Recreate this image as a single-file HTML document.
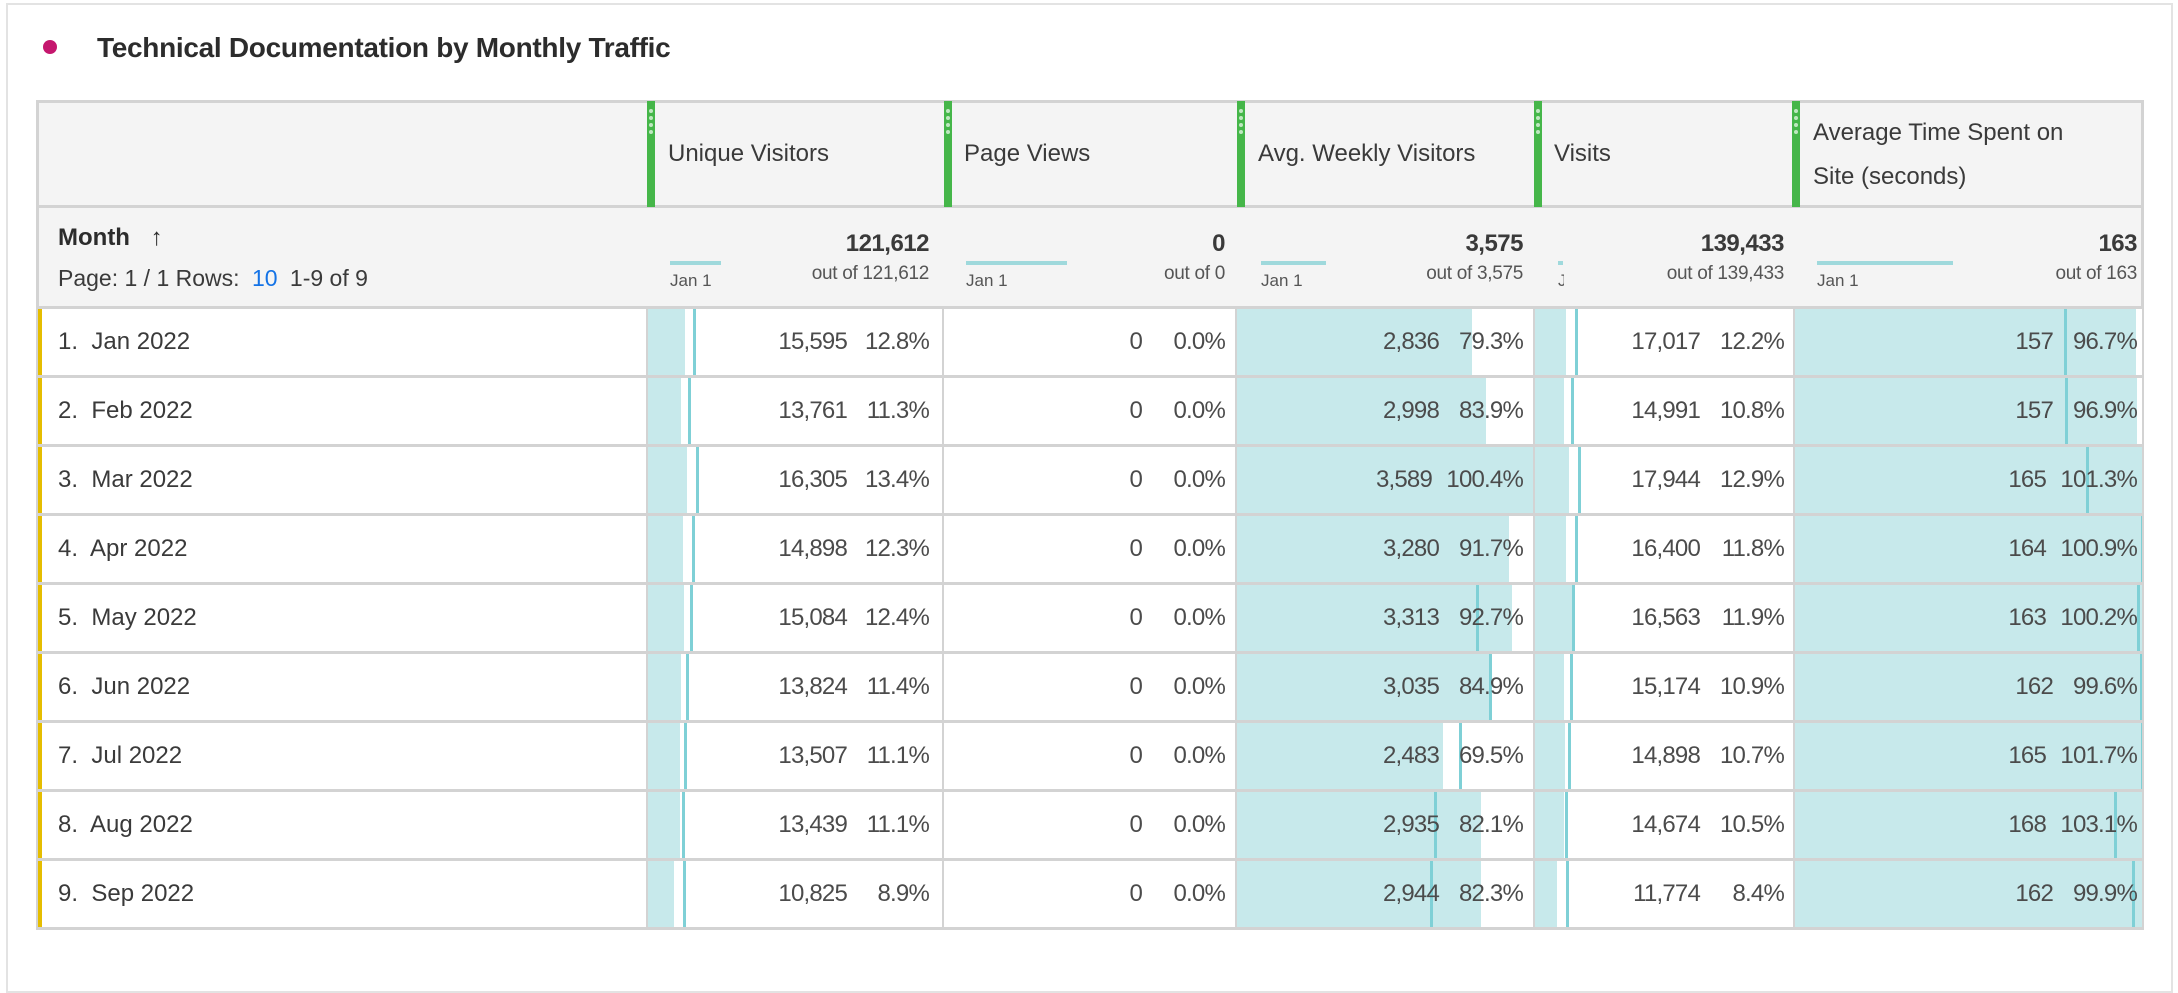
<!DOCTYPE html>
<html><head><meta charset="utf-8">
<style>
*{margin:0;padding:0;box-sizing:border-box}
body{width:2178px;height:984px;background:#fff;position:relative;overflow:hidden;font-family:"Liberation Sans",sans-serif;color:#4b4b4b}
.a{position:absolute}
.card{left:6px;top:3px;width:2167px;height:990px;border:2px solid #e3e3e3}
.hdr{background:#f4f4f4}
.g{position:absolute;top:101px;height:106px;width:8px;background:#45b649}
.g i{position:absolute;left:2px;width:4px;height:4px;border-radius:2px;background:#bfe8c0}
.ht{position:absolute;font-size:24px;color:#3a3a3a;line-height:44px;white-space:nowrap}
.row{position:absolute;left:36px;width:2108px;height:69px;border-bottom:3px solid #d3d3d3;background:#fff}
.yb{position:absolute;left:0;top:0;width:6px;height:100%;background:#e5bd00}
.lbl{position:absolute;left:22px;top:0;line-height:66px;font-size:24px;color:#3a3a3a;white-space:nowrap}
.f{position:absolute;top:0;height:66px;background:#c7e9eb}
.l{position:absolute;top:0;height:66px;width:3px;background:#7fd0d6}
.n{position:absolute;top:0;line-height:66px;font-size:24px;text-align:right;color:#4b4b4b;letter-spacing:-0.8px;white-space:nowrap}
.vb{position:absolute;top:0;height:66px;width:2px;background:#d3d3d3}
.tot{position:absolute;top:230px;font-size:24px;font-weight:bold;text-align:right;color:#3a3a3a;letter-spacing:-0.5px}
.oo{position:absolute;top:263px;font-size:19px;text-align:right;color:#555;white-space:nowrap;letter-spacing:-0.3px}
.sp{position:absolute;top:261px;height:4px;background:#9fd9dc}
.j1{position:absolute;top:271px;font-size:17px;color:#555;white-space:nowrap;overflow:hidden}
</style></head><body>
<div class="a card"></div>
<div class="a" style="left:43px;top:40px;width:14px;height:14px;border-radius:7px;background:#c5176e"></div>
<div class="a" style="left:97px;top:32px;font-size:28px;font-weight:bold;color:#2c2c2c;letter-spacing:-0.3px">Technical Documentation by Monthly Traffic</div>

<div class="a hdr" style="left:36px;top:100px;width:2108px;height:209px;border:3px solid #d3d3d3"></div>
<div class="a" style="left:36px;top:205px;width:2108px;height:3px;background:#d3d3d3"></div>

<div class="g" style="left:647px"><i style="top:8px"></i><i style="top:15px"></i><i style="top:22px"></i><i style="top:29px"></i></div>
<div class="g" style="left:944px"><i style="top:8px"></i><i style="top:15px"></i><i style="top:22px"></i><i style="top:29px"></i></div>
<div class="g" style="left:1237px"><i style="top:8px"></i><i style="top:15px"></i><i style="top:22px"></i><i style="top:29px"></i></div>
<div class="g" style="left:1534px"><i style="top:8px"></i><i style="top:15px"></i><i style="top:22px"></i><i style="top:29px"></i></div>
<div class="g" style="left:1792px"><i style="top:8px"></i><i style="top:15px"></i><i style="top:22px"></i><i style="top:29px"></i></div>

<div class="ht" style="left:668px;top:132px">Unique Visitors</div>
<div class="ht" style="left:964px;top:132px">Page Views</div>
<div class="ht" style="left:1258px;top:132px">Avg. Weekly Visitors</div>
<div class="ht" style="left:1554px;top:132px">Visits</div>
<div class="ht" style="left:1813px;top:111px">Average Time Spent on</div>
<div class="ht" style="left:1813px;top:155px">Site (seconds)</div>

<div class="a" style="left:58px;top:224px;font-size:24px;font-weight:bold;color:#2c2c2c">Month <span style="font-weight:normal;margin-left:14px">&#8593;</span></div>
<div class="a" style="left:58px;top:265px;font-size:23px;color:#3a3a3a">Page: 1 / 1 Rows: <span style="color:#1473e6;margin:0 6px">10</span> 1-9 of 9</div>

<div class="tot" style="right:1249px">121,612</div><div class="oo" style="right:1249px">out of 121,612</div>
<div class="sp" style="left:670px;width:51px"></div><div class="j1" style="left:670px">Jan 1</div>
<div class="tot" style="right:953px">0</div><div class="oo" style="right:953px">out of 0</div>
<div class="sp" style="left:966px;width:101px"></div><div class="j1" style="left:966px">Jan 1</div>
<div class="tot" style="right:655px">3,575</div><div class="oo" style="right:655px">out of 3,575</div>
<div class="sp" style="left:1261px;width:65px"></div><div class="j1" style="left:1261px">Jan 1</div>
<div class="tot" style="right:394px">139,433</div><div class="oo" style="right:394px">out of 139,433</div>
<div class="sp" style="left:1558px;width:5px"></div><div class="j1" style="left:1558px;width:6px">Jan 1</div>
<div class="tot" style="right:41px">163</div><div class="oo" style="right:41px">out of 163</div>
<div class="sp" style="left:1817px;width:136px"></div><div class="j1" style="left:1817px">Jan 1</div>

<div class="row" style="top:309px"><div class="yb"></div><div class="lbl">1.&nbsp; Jan 2022</div>
<div class="f" style="left:611px;width:38px"></div><div class="l" style="left:657px"></div><div class="vb" style="left:906px"></div>
<div class="n" style="right:1297px">15,595</div><div class="n" style="right:1215px">12.8%</div>
<div class="n" style="right:1002px">0</div><div class="n" style="right:919px">0.0%</div>
<div class="f" style="left:1201px;width:235px"></div><div class="vb" style="left:1199px"></div>
<div class="n" style="right:705px">2,836</div><div class="n" style="right:621px">79.3%</div>
<div class="vb" style="left:1497px"></div><div class="f" style="left:1499px;width:31px"></div><div class="l" style="left:1539px"></div>
<div class="n" style="right:444px">17,017</div><div class="n" style="right:360px">12.2%</div>
<div class="vb" style="left:1757px"></div><div class="f" style="left:1759px;width:341px"></div><div class="l" style="left:2028px"></div>
<div class="n" style="right:91px">157</div><div class="n" style="right:7px">96.7%</div></div>

<div class="row" style="top:378px"><div class="yb"></div><div class="lbl">2.&nbsp; Feb 2022</div>
<div class="f" style="left:611px;width:34px"></div><div class="l" style="left:652px"></div><div class="vb" style="left:906px"></div>
<div class="n" style="right:1297px">13,761</div><div class="n" style="right:1215px">11.3%</div>
<div class="n" style="right:1002px">0</div><div class="n" style="right:919px">0.0%</div>
<div class="f" style="left:1201px;width:249px"></div><div class="vb" style="left:1199px"></div>
<div class="n" style="right:705px">2,998</div><div class="n" style="right:621px">83.9%</div>
<div class="vb" style="left:1497px"></div><div class="f" style="left:1499px;width:29px"></div><div class="l" style="left:1535px"></div>
<div class="n" style="right:444px">14,991</div><div class="n" style="right:360px">10.8%</div>
<div class="vb" style="left:1757px"></div><div class="f" style="left:1759px;width:342px"></div><div class="l" style="left:2029px"></div>
<div class="n" style="right:91px">157</div><div class="n" style="right:7px">96.9%</div></div>

<div class="row" style="top:447px"><div class="yb"></div><div class="lbl">3.&nbsp; Mar 2022</div>
<div class="f" style="left:611px;width:40px"></div><div class="l" style="left:660px"></div><div class="vb" style="left:906px"></div>
<div class="n" style="right:1297px">16,305</div><div class="n" style="right:1215px">13.4%</div>
<div class="n" style="right:1002px">0</div><div class="n" style="right:919px">0.0%</div>
<div class="f" style="left:1201px;width:297px"></div><div class="vb" style="left:1199px"></div>
<div class="n" style="right:712px">3,589</div><div class="n" style="right:621px">100.4%</div>
<div class="vb" style="left:1497px"></div><div class="f" style="left:1499px;width:34px"></div><div class="l" style="left:1542px"></div>
<div class="n" style="right:444px">17,944</div><div class="n" style="right:360px">12.9%</div>
<div class="vb" style="left:1757px"></div><div class="f" style="left:1759px;width:349px"></div><div class="l" style="left:2050px"></div>
<div class="n" style="right:98px">165</div><div class="n" style="right:7px">101.3%</div></div>

<div class="row" style="top:516px"><div class="yb"></div><div class="lbl">4.&nbsp; Apr 2022</div>
<div class="f" style="left:611px;width:36px"></div><div class="l" style="left:656px"></div><div class="vb" style="left:906px"></div>
<div class="n" style="right:1297px">14,898</div><div class="n" style="right:1215px">12.3%</div>
<div class="n" style="right:1002px">0</div><div class="n" style="right:919px">0.0%</div>
<div class="f" style="left:1201px;width:272px"></div><div class="vb" style="left:1199px"></div>
<div class="n" style="right:705px">3,280</div><div class="n" style="right:621px">91.7%</div>
<div class="vb" style="left:1497px"></div><div class="f" style="left:1499px;width:31px"></div><div class="l" style="left:1539px"></div>
<div class="n" style="right:444px">16,400</div><div class="n" style="right:360px">11.8%</div>
<div class="vb" style="left:1757px"></div><div class="f" style="left:1759px;width:349px"></div><div class="l" style="left:2105px"></div>
<div class="n" style="right:98px">164</div><div class="n" style="right:7px">100.9%</div></div>

<div class="row" style="top:585px"><div class="yb"></div><div class="lbl">5.&nbsp; May 2022</div>
<div class="f" style="left:611px;width:37px"></div><div class="l" style="left:654px"></div><div class="vb" style="left:906px"></div>
<div class="n" style="right:1297px">15,084</div><div class="n" style="right:1215px">12.4%</div>
<div class="n" style="right:1002px">0</div><div class="n" style="right:919px">0.0%</div>
<div class="f" style="left:1201px;width:275px"></div><div class="l" style="left:1440px"></div><div class="vb" style="left:1199px"></div>
<div class="n" style="right:705px">3,313</div><div class="n" style="right:621px">92.7%</div>
<div class="vb" style="left:1497px"></div><div class="f" style="left:1499px;width:37px"></div><div class="l" style="left:1536px"></div>
<div class="n" style="right:444px">16,563</div><div class="n" style="right:360px">11.9%</div>
<div class="vb" style="left:1757px"></div><div class="f" style="left:1759px;width:349px"></div><div class="l" style="left:2101px"></div>
<div class="n" style="right:98px">163</div><div class="n" style="right:7px">100.2%</div></div>

<div class="row" style="top:654px"><div class="yb"></div><div class="lbl">6.&nbsp; Jun 2022</div>
<div class="f" style="left:611px;width:34px"></div><div class="l" style="left:650px"></div><div class="vb" style="left:906px"></div>
<div class="n" style="right:1297px">13,824</div><div class="n" style="right:1215px">11.4%</div>
<div class="n" style="right:1002px">0</div><div class="n" style="right:919px">0.0%</div>
<div class="f" style="left:1201px;width:254px"></div><div class="l" style="left:1453px"></div><div class="vb" style="left:1199px"></div>
<div class="n" style="right:705px">3,035</div><div class="n" style="right:621px">84.9%</div>
<div class="vb" style="left:1497px"></div><div class="f" style="left:1499px;width:29px"></div><div class="l" style="left:1534px"></div>
<div class="n" style="right:444px">15,174</div><div class="n" style="right:360px">10.9%</div>
<div class="vb" style="left:1757px"></div><div class="f" style="left:1759px;width:349px"></div><div class="l" style="left:2104px"></div>
<div class="n" style="right:91px">162</div><div class="n" style="right:7px">99.6%</div></div>

<div class="row" style="top:723px"><div class="yb"></div><div class="lbl">7.&nbsp; Jul 2022</div>
<div class="f" style="left:611px;width:33px"></div><div class="l" style="left:648px"></div><div class="vb" style="left:906px"></div>
<div class="n" style="right:1297px">13,507</div><div class="n" style="right:1215px">11.1%</div>
<div class="n" style="right:1002px">0</div><div class="n" style="right:919px">0.0%</div>
<div class="f" style="left:1201px;width:206px"></div><div class="l" style="left:1423px"></div><div class="vb" style="left:1199px"></div>
<div class="n" style="right:705px">2,483</div><div class="n" style="right:621px">69.5%</div>
<div class="vb" style="left:1497px"></div><div class="f" style="left:1499px;width:30px"></div><div class="l" style="left:1532px"></div>
<div class="n" style="right:444px">14,898</div><div class="n" style="right:360px">10.7%</div>
<div class="vb" style="left:1757px"></div><div class="f" style="left:1759px;width:349px"></div><div class="l" style="left:2105px"></div>
<div class="n" style="right:98px">165</div><div class="n" style="right:7px">101.7%</div></div>

<div class="row" style="top:792px"><div class="yb"></div><div class="lbl">8.&nbsp; Aug 2022</div>
<div class="f" style="left:611px;width:33px"></div><div class="l" style="left:646px"></div><div class="vb" style="left:906px"></div>
<div class="n" style="right:1297px">13,439</div><div class="n" style="right:1215px">11.1%</div>
<div class="n" style="right:1002px">0</div><div class="n" style="right:919px">0.0%</div>
<div class="f" style="left:1201px;width:244px"></div><div class="l" style="left:1398px"></div><div class="vb" style="left:1199px"></div>
<div class="n" style="right:705px">2,935</div><div class="n" style="right:621px">82.1%</div>
<div class="vb" style="left:1497px"></div><div class="f" style="left:1499px;width:29px"></div><div class="l" style="left:1529px"></div>
<div class="n" style="right:444px">14,674</div><div class="n" style="right:360px">10.5%</div>
<div class="vb" style="left:1757px"></div><div class="f" style="left:1759px;width:349px"></div><div class="l" style="left:2078px"></div>
<div class="n" style="right:98px">168</div><div class="n" style="right:7px">103.1%</div></div>

<div class="row" style="top:861px"><div class="yb"></div><div class="lbl">9.&nbsp; Sep 2022</div>
<div class="f" style="left:611px;width:27px"></div><div class="l" style="left:647px"></div><div class="vb" style="left:906px"></div>
<div class="n" style="right:1297px">10,825</div><div class="n" style="right:1215px">8.9%</div>
<div class="n" style="right:1002px">0</div><div class="n" style="right:919px">0.0%</div>
<div class="f" style="left:1201px;width:244px"></div><div class="l" style="left:1394px"></div><div class="vb" style="left:1199px"></div>
<div class="n" style="right:705px">2,944</div><div class="n" style="right:621px">82.3%</div>
<div class="vb" style="left:1497px"></div><div class="f" style="left:1499px;width:22px"></div><div class="l" style="left:1530px"></div>
<div class="n" style="right:444px">11,774</div><div class="n" style="right:360px">8.4%</div>
<div class="vb" style="left:1757px"></div><div class="f" style="left:1759px;width:349px"></div><div class="l" style="left:2096px"></div>
<div class="n" style="right:91px">162</div><div class="n" style="right:7px">99.9%</div></div>

<div class="a" style="left:36px;top:308px;width:2px;height:622px;background:#d3d3d3"></div>
<div class="a" style="left:2142px;top:308px;width:2px;height:622px;background:#d3d3d3"></div>
<div class="a" style="left:646px;top:308px;width:2px;height:622px;background:#d3d3d3"></div>
</body></html>
